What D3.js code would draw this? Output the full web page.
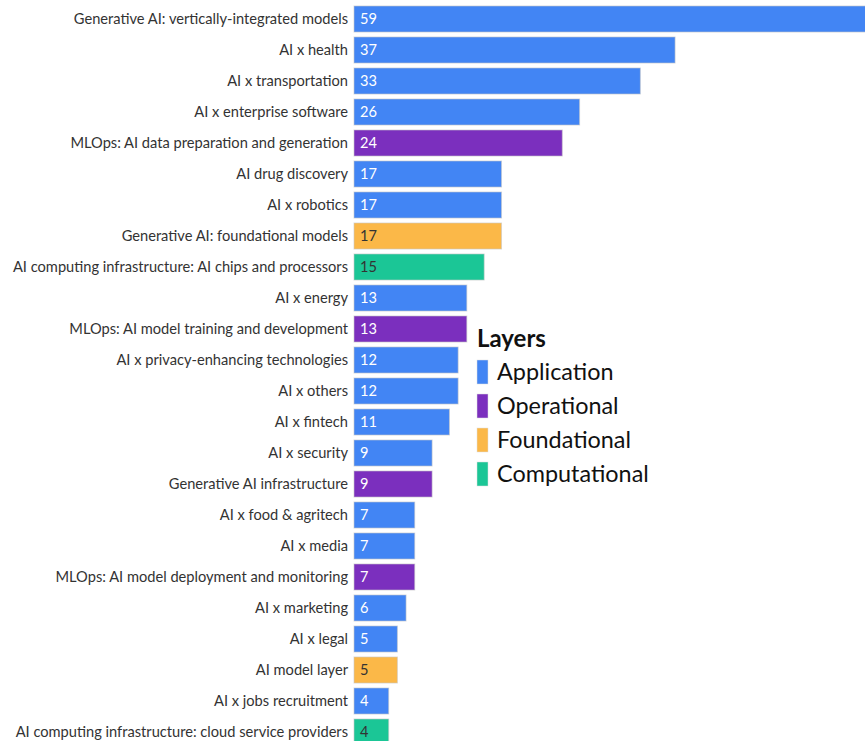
<!DOCTYPE html>
<html>
<head>
<meta charset="utf-8">
<script src="https://cdn.jsdelivr.net/npm/d3@7"></script>
<style>
  html, body { margin: 0; padding: 0; background: #fff; }
  svg { display: block; }
  text { font-family: "Source Sans Pro", "Lato", "Noto Sans", sans-serif; }
</style>
</head>
<body>
<svg id="chart" width="865" height="741"></svg>
<script>
const categories = [
  "Generative AI: vertically-integrated models",
  "AI x health",
  "AI x transportation",
  "AI x enterprise software",
  "MLOps: AI data preparation and generation",
  "AI drug discovery",
  "AI x robotics",
  "Generative AI: foundational models",
  "AI computing infrastructure: AI chips and processors",
  "AI x energy",
  "MLOps: AI model training and development",
  "AI x privacy-enhancing technologies",
  "AI x others",
  "AI x fintech",
  "AI x security",
  "Generative AI infrastructure",
  "AI x food & agritech",
  "AI x media",
  "MLOps: AI model deployment and monitoring",
  "AI x marketing",
  "AI x legal",
  "AI model layer",
  "AI x jobs recruitment",
  "AI computing infrastructure: cloud service providers"
];
const values = [59, 37, 33, 26, 24, 17, 17, 17, 15, 13, 13, 12, 12, 11, 9, 9, 7, 7, 7, 6, 5, 5, 4, 4];
const layers = [
  "Application", "Application", "Application", "Application", "Operational",
  "Application", "Application", "Foundational", "Computational", "Application",
  "Operational", "Application", "Application", "Application", "Application",
  "Operational", "Application", "Application", "Operational", "Application",
  "Application", "Foundational", "Application", "Computational"
];
const layerNames = ["Application", "Operational", "Foundational", "Computational"];
const layerColors = ["#4285f4", "#7b2fbe", "#fbb848", "#1bc696"];
const layerTextColors = ["#ffffff", "#ffffff", "#333333", "#333333"];

const svg = d3.select("#chart");
const color = d3.scaleOrdinal().domain(layerNames).range(layerColors);
const textColor = d3.scaleOrdinal().domain(layerNames).range(layerTextColors);

const y = d3.scaleBand().domain(categories).range([3.5, 747.5])
  .paddingInner(0.16).paddingOuter(0.08);
const x = d3.scaleLinear().domain([0, 59]).range([354, 866]);

const data = categories.map((c, i) => ({ cat: c, value: values[i], layer: layers[i] }));

const g = svg.append("g");
g.selectAll("rect.bar").data(data).join("rect")
  .attr("class", "bar")
  .attr("x", x(0))
  .attr("y", d => y(d.cat))
  .attr("width", d => x(d.value) - x(0))
  .attr("height", y.bandwidth())
  .attr("fill", d => color(d.layer))
  .attr("stroke", "#c8c8c8")
  .attr("stroke-opacity", 0.6)
  .attr("stroke-width", 1);

g.selectAll("text.val").data(data).join("text")
  .attr("class", "val")
  .attr("x", x(0) + 6)
  .attr("y", d => y(d.cat) + y.bandwidth() / 2)
  .attr("dy", "0.35em")
  .attr("font-size", 14.6)
  .attr("fill", d => textColor(d.layer))
  .text(d => d.value);

// category axis
const yAxis = d3.axisLeft(y).tickSize(0).tickPadding(6);
const ax = svg.append("g").attr("transform", `translate(${x(0)},0)`).call(yAxis);
ax.select(".domain").remove();
ax.selectAll("text").attr("font-size", 14.65).attr("fill", "#333")
  .style("font-family", '"Source Sans Pro", "Lato", "Noto Sans", sans-serif');

// legend
const lg = svg.append("g").attr("transform", "translate(477,0)");
lg.append("text").attr("x", 0).attr("y", 347)
  .attr("font-size", 24).attr("font-weight", "bold").attr("fill", "#111")
  .text("Layers");
const ly = d3.scalePoint().domain(layerNames).range([372, 474]);
const items = lg.selectAll("g.item").data(layerNames).join("g")
  .attr("class", "item")
  .attr("transform", d => `translate(0,${ly(d)})`);
items.append("rect").attr("x", 0).attr("y", -12).attr("width", 11).attr("height", 24)
  .attr("fill", d => color(d)).attr("stroke", "#ddd").attr("stroke-width", 0.5);
items.append("text").attr("x", 20).attr("dy", "0.35em")
  .attr("font-size", 23.4).attr("fill", "#111").text(d => d);
</script>
</body>
</html>
